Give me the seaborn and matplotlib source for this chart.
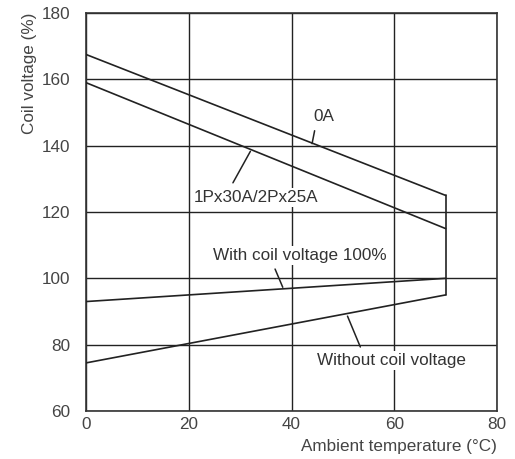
import matplotlib
matplotlib.use("Agg")
import matplotlib.pyplot as plt
import seaborn as sns
import pandas as pd

# Ambient temperature (°C) at the two ends of each characteristic
temps = [0, 70]
# Coil voltage (%) for each curve
v_0a = [167.5, 125]
v_1p30a = [159, 115]
v_with_coil = [93, 100]
v_without_coil = [74.5, 95]
# Upper temperature limit drawn as a vertical bound
limit_temp = [70, 70]
limit_volt = [125, 95]

x_ticks = [0, 20, 40, 60, 80]
y_ticks = [60, 80, 100, 120, 140, 160, 180]

sns.set_theme(style="white")
plt.rcParams["font.family"] = ["Liberation Sans", "DejaVu Sans"]

ink = "#222222"
fs = 12.3
fig = plt.figure(figsize=(5.15, 4.59), dpi=100)
ax = fig.add_axes([86 / 515, 1 - 411 / 459, 411 / 515, 398 / 459])

curves = {
    "0A": v_0a,
    "1Px30A/2Px25A": v_1p30a,
    "With coil voltage 100%": v_with_coil,
    "Without coil voltage": v_without_coil,
}
df = pd.concat(
    [pd.DataFrame({"temp": temps, "volt": v, "curve": k}) for k, v in curves.items()],
    ignore_index=True,
)
sns.lineplot(data=df, x="temp", y="volt", units="curve", estimator=None,
             color=ink, lw=1.2, ax=ax, zorder=3, legend=False)
sns.lineplot(x=limit_temp, y=limit_volt, color=ink, lw=1.2, ax=ax, zorder=3,
             estimator=None, sort=False)

ax.set_xlim(0, 80)
ax.set_ylim(60, 180)
ax.set_xticks(x_ticks)
ax.set_yticks(y_ticks)
ax.grid(True, color=ink, lw=1.0)
ax.set_axisbelow(True)
for s in ax.spines.values():
    s.set_color("#333333")
    s.set_linewidth(1.2)
ax.tick_params(axis="both", length=0, labelsize=fs, labelcolor="#444444")
ax.tick_params(axis="x", pad=4)
ax.tick_params(axis="y", pad=11)

ax.set_xlabel("Ambient temperature (°C)", loc="right", fontsize=fs, color="#444444",
              labelpad=5)
ax.set_ylabel("Coil voltage (%)", loc="top", fontsize=fs, color="#444444", labelpad=4)

box = dict(facecolor="white", edgecolor="none", pad=1.5)
labels = [
    ("0A", (46.3, 148.8), (44.5, 144.5), (44.0, 140.6)),
    ("1Px30A/2Px25A", (33.0, 124.5), (28.6, 128.8), (32.0, 138.3)),
    ("With coil voltage 100%", (41.7, 107.0), (36.8, 102.8), (38.3, 97.3)),
    ("Without coil voltage", (59.4, 75.3), (53.4, 79.3), (50.9, 88.6)),
]
for text, tpos, p0, p1 in labels:
    ax.text(*tpos, text, ha="center", va="center", fontsize=fs, color="#333333",
            bbox=box, zorder=4)
    ax.plot([p0[0], p1[0]], [p0[1], p1[1]], color=ink, lw=1.1, zorder=5)

fig.savefig("out.png", dpi=100)
